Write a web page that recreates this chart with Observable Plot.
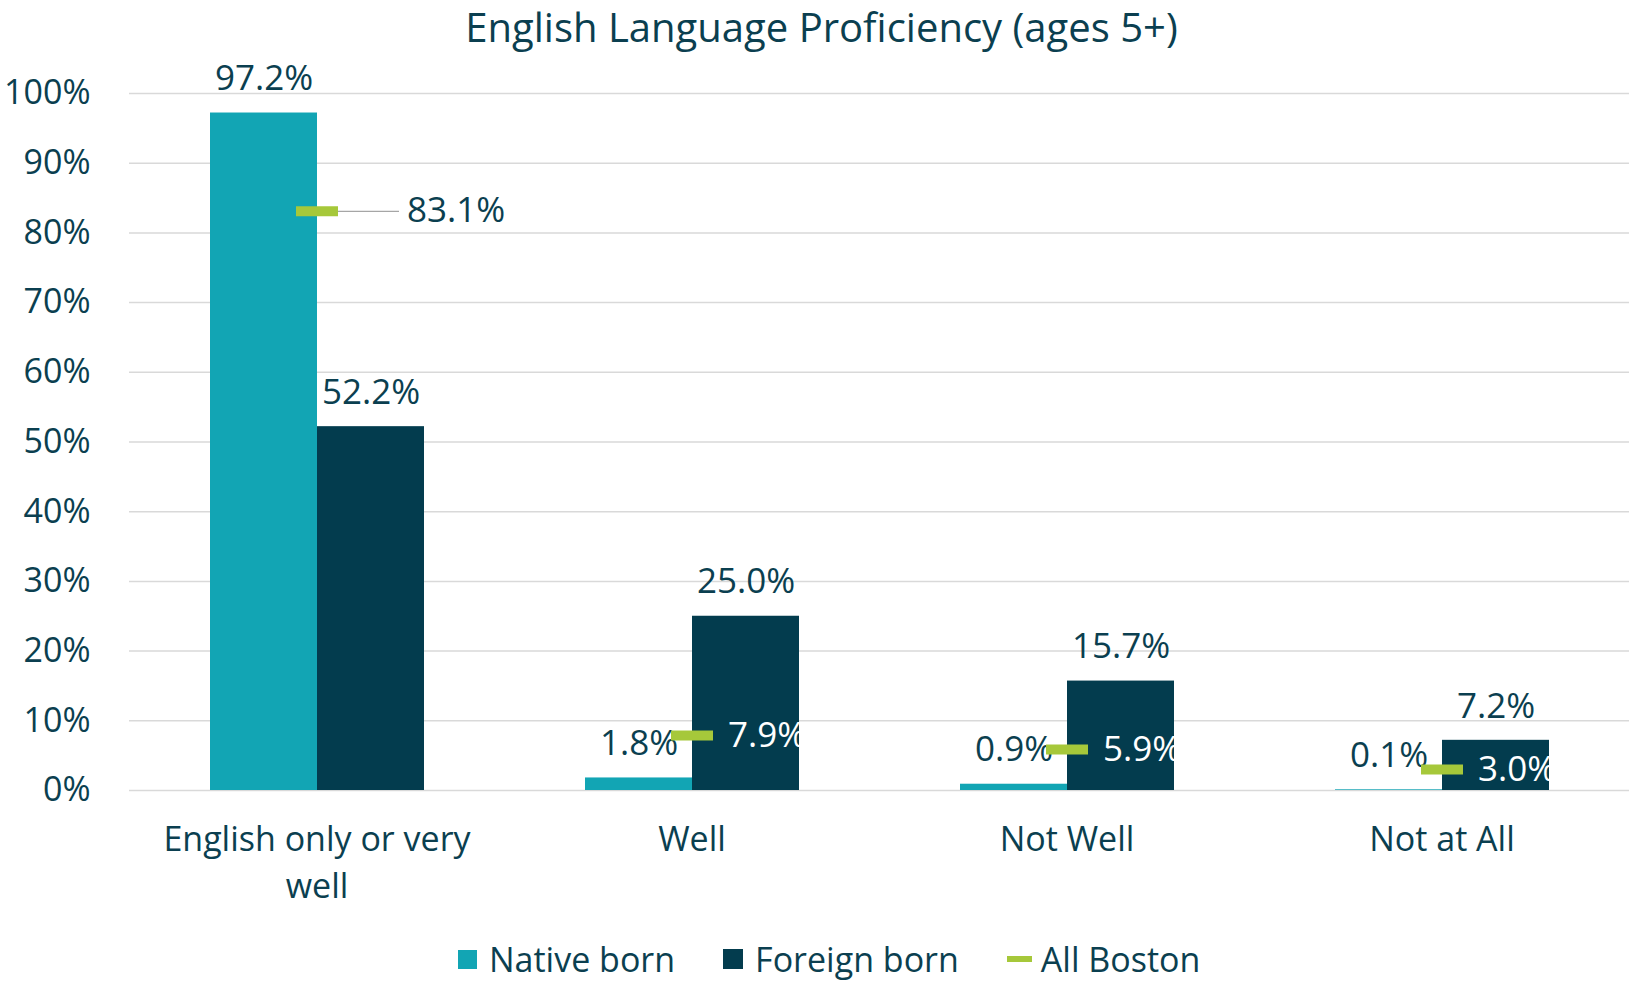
<!DOCTYPE html>
<html><head><meta charset="utf-8">
<script src="https://cdn.jsdelivr.net/npm/d3@7"></script>
<script src="https://cdn.jsdelivr.net/npm/@observablehq/plot@0.6"></script>
<style>
html,body{margin:0;padding:0;background:#fff;}
#wrap{position:relative;width:1631px;height:981px;overflow:hidden;font-family:"Open Sans",sans-serif;color:#0b3f50;}
#title{position:absolute;left:0;top:0;width:1631px;box-sizing:border-box;padding-left:12px;height:54px;line-height:54px;text-align:center;font-size:40px;white-space:nowrap;}
#chart{position:absolute;left:0;top:46px;}
#legend{position:absolute;left:458px;top:939px;height:40px;display:flex;align-items:center;font-size:34px;}
.item{display:flex;align-items:center;margin-right:48px;}
.sw{display:inline-block;margin-right:12px;}
</style></head><body>
<div id="wrap">
  <div id="chart"></div>
  <div id="title">English Language Proficiency (ages 5+)</div>
  <div id="legend"></div>
</div>
<script>
const categories = ["English only or very well", "Well", "Not Well", "Not at All"];
const series = ["Native born", "Foreign born"];
const nativeBorn = [97.2, 1.8, 0.9, 0.1];
const foreignBorn = [52.2, 25.0, 15.7, 7.2];
const allBoston = [83.1, 7.9, 5.9, 3.0];
const yTicks = [0, 10, 20, 30, 40, 50, 60, 70, 80, 90, 100];
const bostonLabel = "All Boston";

const teal = "#12a5b4", dark = "#033c4e", green = "#a6c83a", textColor = "#0b3f50";

const bars = [];
categories.forEach((c, i) => {
  bars.push({category: c, series: series[0], value: nativeBorn[i]});
  bars.push({category: c, series: series[1], value: foreignBorn[i]});
});
const boston = categories.map((c, i) => ({category: c, value: allBoston[i], foreign: foreignBorn[i]}));
const outside = boston.filter(d => d.value > d.foreign);
const inside = boston.filter(d => d.value <= d.foreign);
const fmt = v => v.toFixed(1) + "%";

function wrap(s) {
  const words = s.split(" "), lines = [];
  let cur = "";
  for (const w of words) {
    if (cur && (cur + " " + w).length > 20) { lines.push(cur); cur = w; }
    else cur = cur ? cur + " " + w : w;
  }
  lines.push(cur);
  return lines.join("\n");
}

const markerSymbol = {draw(ctx) { ctx.rect(-21, -5, 42, 10); }};
const leaderSymbol = {draw(ctx) { ctx.moveTo(0, 0); ctx.lineTo(82, 0); }};

const chart = Plot.plot({
  width: 1631,
  height: 868,
  marginTop: 47,
  marginBottom: 124,
  marginLeft: 129,
  marginRight: 2,
  style: {fontFamily: "'Open Sans', sans-serif", color: textColor, background: "transparent"},
  fx: {domain: categories, padding: 0, axis: null, label: null},
  x: {domain: series, paddingInner: 0, paddingOuter: 0.752, axis: null},
  y: {domain: [0, 100], axis: null},
  color: {domain: series, range: [teal, dark]},
  marks: [
    Plot.gridY(yTicks, {stroke: "#d9d9d9", strokeOpacity: 1, strokeWidth: 1.5}),
    Plot.axisY(yTicks, {tickSize: 0, tickPadding: 39, fontSize: 34, tickFormat: d => d + "%", label: null, fill: textColor}),
    Plot.barY(bars, {fx: "category", x: "series", y: "value", fill: "series"}),
    Plot.text(bars, {fx: "category", x: "series", y: "value", text: d => fmt(d.value), dy: -34, fontSize: 35, fill: textColor}),
    Plot.dot(outside, {fx: "category", y: "value", symbol: leaderSymbol, stroke: "#a6a6a6", fill: "none", strokeWidth: 1.2, r: 1}),
    Plot.dot(boston, {fx: "category", y: "value", symbol: markerSymbol, fill: green, stroke: "none", r: 1}),
    Plot.text(outside, {fx: "category", y: "value", text: d => fmt(d.value), textAnchor: "start", dx: 90, fontSize: 35, fill: textColor}),
    Plot.text(inside, {fx: "category", y: "value", text: d => fmt(d.value), textAnchor: "start", dx: 36, fontSize: 35, fill: "#ffffff"}),
    Plot.axisFx({anchor: "bottom", tickSize: 0, tickPadding: 26, fontSize: 34, lineHeight: 1.41, tickFormat: wrap, label: null, fill: textColor})
  ]
});
document.getElementById("chart").appendChild(chart);

const legend = document.getElementById("legend");
const items = [
  {label: series[0], html: `<span class="sw" style="width:19px;height:19px;background:${teal}"></span>`},
  {label: series[1], html: `<span class="sw" style="width:20px;height:20px;background:${dark}"></span>`},
  {label: bostonLabel, html: `<span class="sw" style="width:25px;height:6px;background:${green};margin-right:9px"></span>`}
];
for (const it of items) {
  const d = document.createElement("div");
  d.className = "item";
  d.innerHTML = it.html + `<span>${it.label}</span>`;
  legend.appendChild(d);
}
</script>
</body></html>
